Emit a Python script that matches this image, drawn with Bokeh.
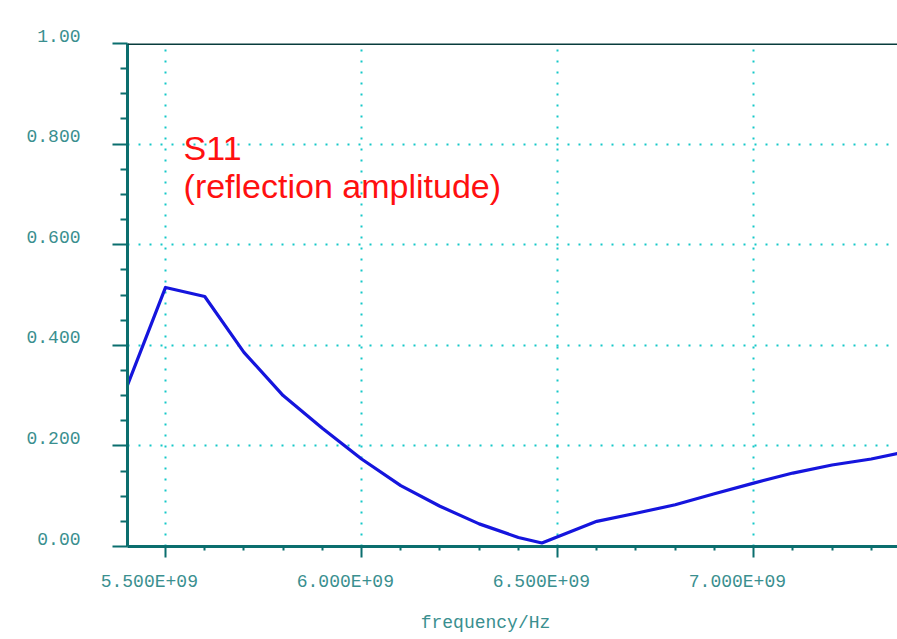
from bokeh.plotting import figure
from bokeh.models import Range1d, FixedTicker, Span, Label
from bokeh.embed import file_html
from bokeh.resources import INLINE

# ---- data ----
freq_hz = [5.40e9, 5.50e9, 5.60e9, 5.70e9, 5.80e9, 5.90e9, 6.00e9, 6.10e9, 6.20e9,
           6.30e9, 6.40e9, 6.46e9, 6.60e9, 6.70e9, 6.80e9, 6.90e9, 7.00e9, 7.10e9,
           7.20e9, 7.30e9, 7.40e9]
s11_amp = [0.315, 0.515, 0.497, 0.386, 0.300, 0.235, 0.174, 0.121, 0.080,
           0.045, 0.018, 0.007, 0.050, 0.066, 0.083, 0.105, 0.126, 0.146,
           0.162, 0.174, 0.190]

x_major = [5.5e9, 6.0e9, 6.5e9, 7.0e9]
x_labels = ["5.500E+09", "6.000E+09", "6.500E+09", "7.000E+09"]
x_minor = [5.6e9, 5.7e9, 5.8e9, 5.9e9, 6.1e9, 6.2e9, 6.3e9, 6.4e9,
           6.6e9, 6.7e9, 6.8e9, 6.9e9, 7.1e9, 7.2e9, 7.3e9]
y_major = [0.0, 0.2, 0.4, 0.6, 0.8, 1.0]
y_labels = ["0.00", "0.200", "0.400", "0.600", "0.800", "1.00"]
y_minor = [0.05, 0.10, 0.15, 0.25, 0.30, 0.35, 0.45, 0.50, 0.55,
           0.65, 0.70, 0.75, 0.85, 0.90, 0.95]
y_grid = [0.2, 0.4, 0.6, 0.8]

AXIS = "#0b6e6e"
LBL = "#3a8f8f"
MONO = "Liberation Mono"
PAD = "\u00a0"  # trailing pad: the original labels sit left of their ticks

p = figure(width=897, height=639, output_backend="svg", toolbar_location=None,
           x_range=Range1d(5.403e9, 7.367e9), y_range=Range1d(0.0, 1.0),
           min_border_left=127, min_border_right=0, min_border_top=43,
           min_border_bottom=93, background_fill_color="white",
           border_fill_color="white", outline_line_color=None)

# y axis
ya = p.yaxis[0]
ya.ticker = FixedTicker(ticks=y_major, minor_ticks=y_minor)
ya.major_label_overrides = {t: l + "\n" + PAD for t, l in zip(y_major, y_labels)}
ya.axis_line_color = AXIS
ya.axis_line_width = 3
ya.major_tick_line_color = AXIS
ya.major_tick_line_width = 2
ya.minor_tick_line_color = AXIS
ya.minor_tick_line_width = 2
ya.major_tick_out = 15
ya.major_tick_in = 0
ya.minor_tick_out = 7
ya.minor_tick_in = 0
ya.major_label_standoff = 32
ya.major_label_text_font = MONO
ya.major_label_text_font_size = "18px"
ya.major_label_text_color = LBL
ya.major_label_text_line_height = 0.7

# x axis
xa = p.xaxis[0]
xa.ticker = FixedTicker(ticks=x_major, minor_ticks=x_minor)
xa.major_label_overrides = {t: l + PAD * 3 for t, l in zip(x_major, x_labels)}
xa.axis_line_color = AXIS
xa.axis_line_width = 3
xa.major_tick_line_color = AXIS
xa.major_tick_line_width = 2
xa.minor_tick_line_color = AXIS
xa.minor_tick_line_width = 2
xa.major_tick_out = 11
xa.major_tick_in = 0
xa.minor_tick_out = 4
xa.minor_tick_in = 0
xa.major_label_standoff = 14
xa.major_label_text_font = MONO
xa.major_label_text_font_size = "18px"
xa.major_label_text_color = LBL
xa.axis_label = "frequency/Hz" + PAD * 5
xa.axis_label_standoff = 18
xa.axis_label_text_font = MONO
xa.axis_label_text_font_size = "18px"
xa.axis_label_text_font_style = "normal"
xa.axis_label_text_color = LBL

# grids
p.xgrid.ticker = FixedTicker(ticks=x_major)
p.ygrid.ticker = FixedTicker(ticks=y_grid)
for g in (p.xgrid[0], p.ygrid[0]):
    g.grid_line_color = "#14c8c8"
    g.grid_line_width = 2
    g.grid_line_dash = "2 9"

# top border
p.add_layout(Span(location=1.0, dimension="width", line_color="#083c3c", line_width=3))

# curve
p.line(freq_hz, s11_amp, line_color="#1515dd", line_width=3.2, line_join="round")

# annotations
p.add_layout(Label(x=5.546e9, y=0.792, text="S11", text_font="Liberation Sans",
                   text_font_size="34px", text_color="#ff1010", text_baseline="alphabetic"))
p.add_layout(Label(x=5.546e9, y=0.717, text="(reflection amplitude)", text_font="Liberation Sans",
                   text_font_size="34px", text_color="#ff1010", text_baseline="alphabetic"))

open("out.html", "w").write(file_html(p, INLINE))
